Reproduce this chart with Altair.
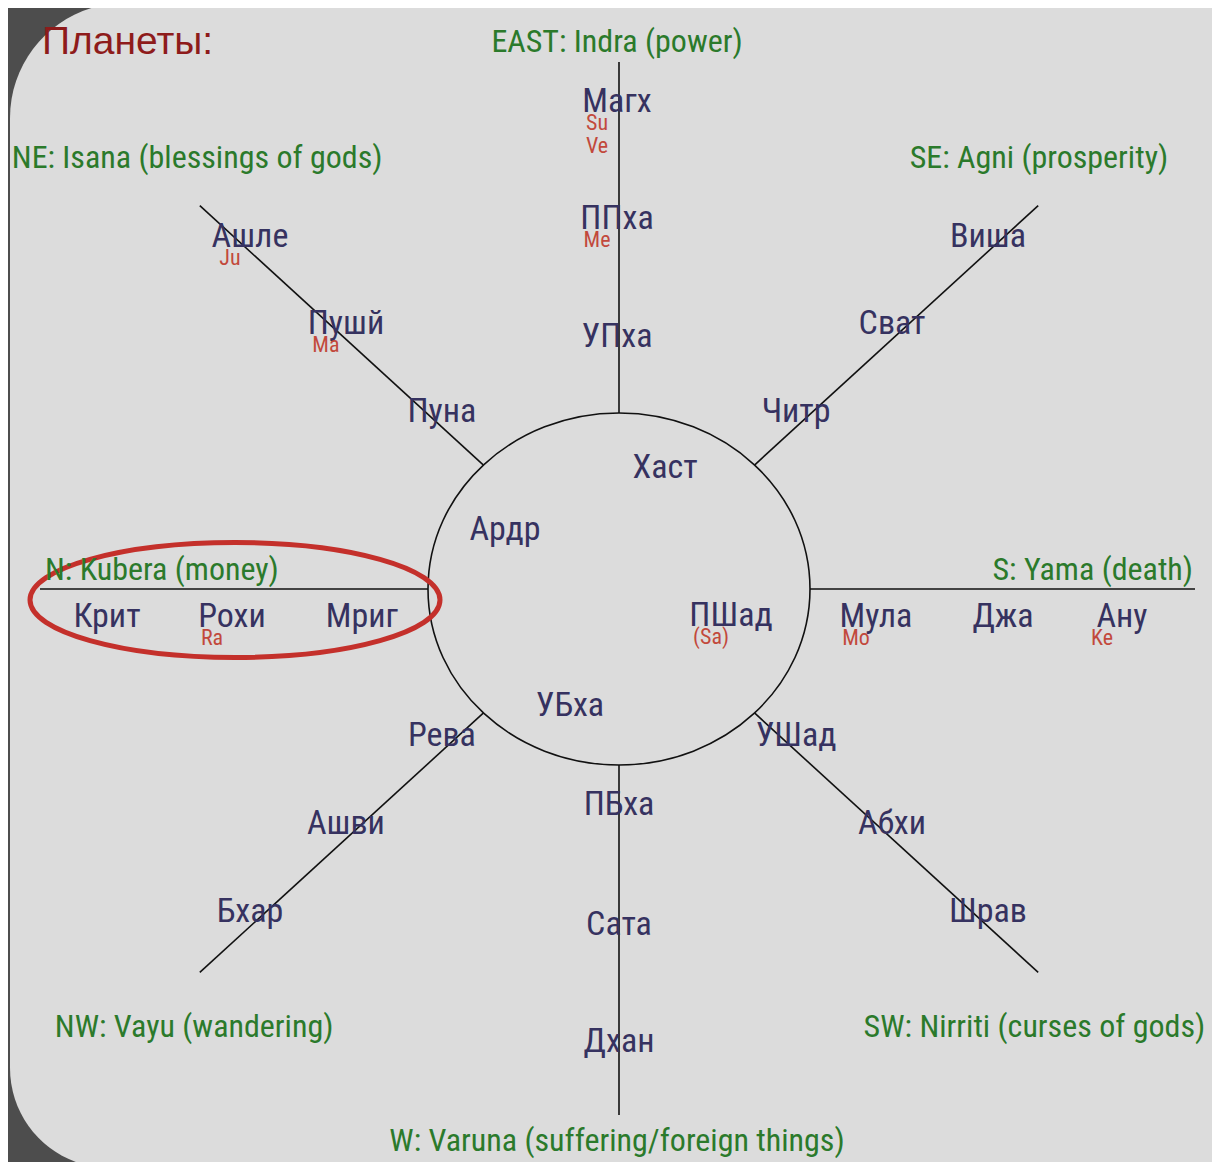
import altair as alt
import pandas as pd

# ---------------- data ----------------
title_text = "Планеты:"

directions = ["EAST", "NE", "SE", "N", "S", "NW", "SW", "W"]
deity_labels = [
    "EAST: Indra (power)",
    "NE: Isana (blessings of gods)",
    "SE: Agni (prosperity)",
    "N: Kubera (money)",
    "S: Yama (death)",
    "NW: Vayu (wandering)",
    "SW: Nirriti (curses of gods)",
    "W: Varuna (suffering/foreign things)",
]

# nakshatras on each arm, from the circle outwards
east_arm = ["УПха", "ППха", "Магх"]
ne_arm = ["Пуна", "Пушй", "Ашле"]
se_arm = ["Читр", "Сват", "Виша"]
n_arm = ["Мриг", "Рохи", "Крит"]
s_arm = ["Мула", "Джа", "Ану"]
nw_arm = ["Рева", "Ашви", "Бхар"]
sw_arm = ["УШад", "Абхи", "Шрав"]
w_arm = ["ПБха", "Сата", "Дхан"]

inner_nakshatras = ["Хаст", "Ардр", "ПШад", "УБха"]

planet_hosts = ["Магх", "Магх", "ППха", "Ашле", "Пушй", "Рохи", "ПШад", "Мула", "Ану"]
planet_names = ["Su", "Ve", "Me", "Ju", "Ma", "Ra", "(Sa)", "Mo", "Ke"]

# ---------------- layout (page pixels) ----------------
W, H = 1204, 1154
X0, Y0 = 8, 8
CX, CY = 619, 589
RX, RY = 191, 176
D = (0.738, 0.675)

arm_layout = {
    # unit vector, line start/end radius, label radii, label offset
    "EAST": ((0, -1), 176, 527, [252, 370, 487], (-2, 0)),
    "W": ((0, 1), 176, 526, [216, 336, 453], (0, 0)),
    "N": ((-1, 0), 191, 579, [257, 387, 512], (0, 28)),
    "S": ((1, 0), 191, 576, [257, 384, 503], (0, 28)),
    "NE": ((-D[0], -D[1]), 184, 568, [240, 370, 500], (0, -15)),
    "SE": ((D[0], -D[1]), 184, 568, [240, 370, 500], (0, -15)),
    "NW": ((-D[0], D[1]), 184, 568, [240, 370, 500], (0, -15)),
    "SW": ((D[0], D[1]), 184, 568, [240, 370, 500], (0, -15)),
}
arm_names = {"EAST": east_arm, "NE": ne_arm, "SE": se_arm, "N": n_arm,
             "S": s_arm, "NW": nw_arm, "SW": sw_arm, "W": w_arm}
inner_offsets = [(46, -121), (-114, -59), (112, 27), (-49, 117)]
deity_layout = {  # offset from arm end, text alignment
    "EAST": ((-2, -20), "center"), "W": ((-2, 26), "center"),
    "N": ((5, -19), "left"), "S": ((-2, -19), "right"),
    "NE": ((-188, -48), "left"), "SE": ((130, -48), "right"),
    "NW": ((-145, 55), "left"), "SW": ((167, 55), "right"),
}
planet_offset = (-20, 21)
planet_step = 23

# ---------------- build tables ----------------
rules, naks, deity = [], [], []
for d, lab in zip(directions, deity_labels):
    (ux, uy), r0, r1, radii, (ox, oy) = arm_layout[d]
    rules.append(dict(x=CX + ux * r0, y=CY + uy * r0, x2=CX + ux * r1, y2=CY + uy * r1))
    for name, r in zip(arm_names[d], radii):
        naks.append(dict(label=name, x=CX + ux * r + ox, y=CY + uy * r + oy))
    (dx, dy), al = deity_layout[d]
    deity.append(dict(label=lab, x=CX + ux * r1 + dx, y=CY + uy * r1 + dy, align=al))
for name, (ox, oy) in zip(inner_nakshatras, inner_offsets):
    naks.append(dict(label=name, x=CX + ox, y=CY + oy))

pos = {n["label"]: (n["x"], n["y"]) for n in naks}
pl, seen = [], {}
for host, p in zip(planet_hosts, planet_names):
    k = seen.get(host, 0)
    seen[host] = k + 1
    hx, hy = pos[host]
    pl.append(dict(label=p, x=hx + planet_offset[0], y=hy + planet_offset[1] + k * planet_step))

rules_df = pd.DataFrame(rules)
naks_df = pd.DataFrame(naks)
deity_df = pd.DataFrame(deity)
pl_df = pd.DataFrame(pl)


def ellipse_path(q):
    k = 0.5523
    return (f"M 1 0 C 1 {k*q} {k} {q} 0 {q} C {-k} {q} -1 {k*q} -1 0 "
            f"C -1 {-k*q} {-k} {-q} 0 {-q} C {k} {-q} 1 {-k*q} 1 0 Z")


xs = alt.Scale(domain=[X0, X0 + W], nice=False, zero=False)
ys = alt.Scale(domain=[Y0 + H, Y0], nice=False, zero=False)


def X(f="x"):
    return alt.X(f"{f}:Q", scale=xs, axis=None)


def Y(f="y"):
    return alt.Y(f"{f}:Q", scale=ys, axis=None)


NARROW = "'Roboto Condensed', 'Liberation Sans Narrow', sans-serif"

panel = alt.Chart(pd.DataFrame([dict(x=10, x2=1240, y=3, y2=1168)])).mark_rect(
    color="#dcdcdc", cornerRadiusTopLeft=115, cornerRadiusBottomLeft=100
).encode(x=X(), x2="x2:Q", y=Y(), y2="y2:Q")

arms = alt.Chart(rules_df).mark_rule(color="#111111", strokeWidth=1.6).encode(
    x=X(), y=Y(), x2="x2:Q", y2="y2:Q")

circle = alt.Chart(pd.DataFrame([dict(x=CX, y=CY)])).mark_point(
    shape=ellipse_path(RY / RX), size=(2 * RX) ** 2, filled=False,
    stroke="#111111", strokeWidth=1.6, opacity=1
).encode(x=X(), y=Y())

red_ring = alt.Chart(pd.DataFrame([dict(x=235, y=600)])).mark_point(
    shape=ellipse_path(0.28), size=(2 * 205) ** 2, filled=False,
    stroke="#c4302b", strokeWidth=5, opacity=1
).encode(x=X(), y=Y())

nak_text = alt.Chart(naks_df).mark_text(
    font=NARROW, fontSize=34, color="#363260", align="center", baseline="middle"
).encode(x=X(), y=Y(), text="label:N")

planet_text = alt.Chart(pl_df).mark_text(
    font=NARROW, fontSize=22, color="#c0392b", align="center", baseline="middle", opacity=0.9
).encode(x=X(), y=Y(), text="label:N")

deity_layers = []
for al in ["left", "center", "right"]:
    sub = deity_df[deity_df["align"] == al]
    deity_layers.append(alt.Chart(sub).mark_text(
        font=NARROW, fontSize=32, color="#2b7a2b", align=al, baseline="middle"
    ).encode(x=X(), y=Y(), text="label:N"))

title = alt.Chart(pd.DataFrame([dict(label=title_text, x=42, y=42)])).mark_text(
    font="'Liberation Sans', Arial, sans-serif", fontSize=39, color="#8e1b1b",
    align="left", baseline="middle"
).encode(x=X(), y=Y(), text="label:N")

chart = alt.layer(panel, arms, circle, red_ring, nak_text, planet_text, *deity_layers, title).properties(
    width=W, height=H, autosize=alt.AutoSizeParams(type="none"), padding=0,
    background="#4d4d4d"
).configure_view(stroke=None)

chart.save("out.html", embed_options={"renderer": "svg", "actions": False})
